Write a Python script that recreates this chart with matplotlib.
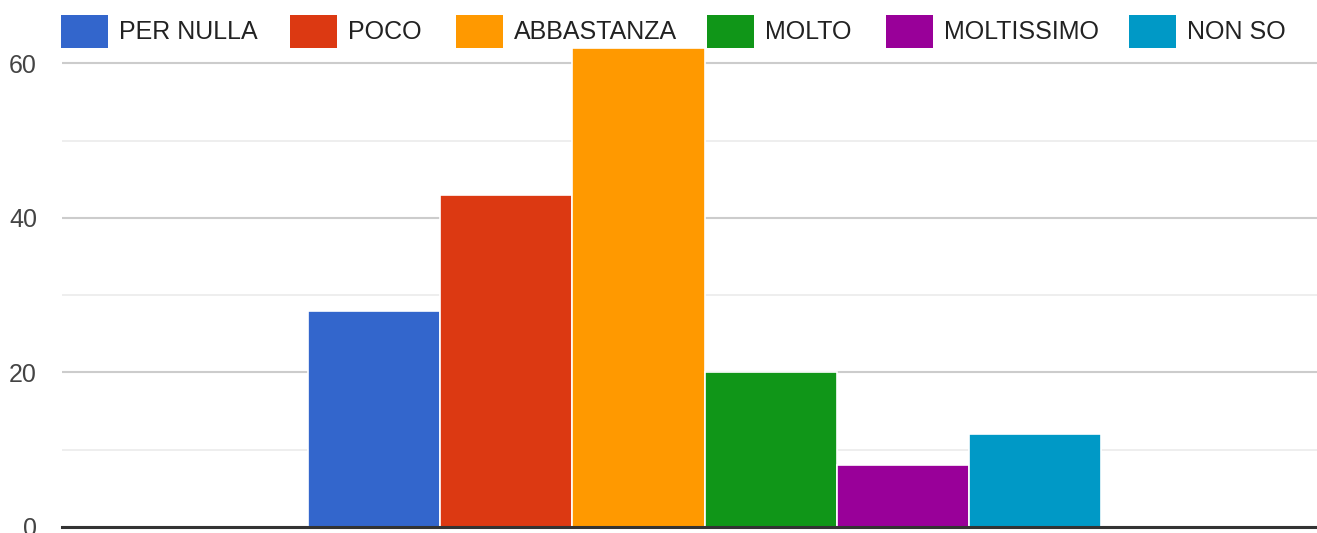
import matplotlib
matplotlib.use("Agg")
import matplotlib.pyplot as plt
from matplotlib.patches import Rectangle

# survey answers, one bar each
categories = ["PER NULLA", "POCO", "ABBASTANZA", "MOLTO", "MOLTISSIMO", "NON SO"]
values = [28, 43, 62, 20, 8, 12]
colors = ["#3366cc", "#dc3912", "#ff9900", "#109618", "#990099", "#0099c6"]
major_ticks = [0, 20, 40, 60]
minor_ticks = [10, 30, 50]

plt.rcParams["font.family"] = ["Liberation Sans", "DejaVu Sans"]

W, H = 1317, 533
fig = plt.figure(figsize=(W / 100, H / 100), dpi=100)
ax = fig.add_axes([62 / W, 6 / H, 1 - 62 / W, 527 / H])

x = range(len(values))
ax.bar(x, values, width=1.0, color=colors, edgecolor="white", linewidth=1.2, zorder=3)

ax.set_xlim(-2.36, 7.13)
ax.set_ylim(0, 68.2)
ax.set_yticks(major_ticks)
ax.set_yticks(minor_ticks, minor=True)
ax.set_xticks([])
ax.grid(axis="y", which="major", color="#cccccc", linewidth=1.5, zorder=0)
ax.grid(axis="y", which="minor", color="#ebebeb", linewidth=1.2, zorder=0)
ax.tick_params(axis="y", which="both", length=0, labelsize=18, labelcolor="#444444", pad=18)
for s in ["top", "right", "left"]:
    ax.spines[s].set_visible(False)
ax.spines["bottom"].set_color("#333333")
ax.spines["bottom"].set_linewidth(2.2)
ax.spines["bottom"].set_zorder(4)

# legend drawn by hand so the entries sit where the original puts them
swatch_left = [61, 290, 456, 707, 886, 1129]
for left, lab, c in zip(swatch_left, categories, colors):
    fig.patches.append(Rectangle((left / W, 1 - 48 / H), 47 / W, 33 / H,
                                 transform=fig.transFigure, facecolor=c,
                                 edgecolor="none", zorder=5))
    fig.text((left + 58) / W, 1 - 32 / H, lab, fontsize=18, color="#222222",
             ha="left", va="center", zorder=5)

fig.savefig("out.png", dpi=100)
